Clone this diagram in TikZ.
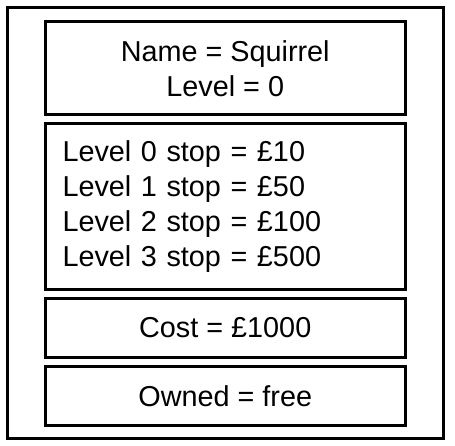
\documentclass[tikz,border=0pt]{standalone}
\usepackage{fontspec}
\setmainfont{Liberation Sans}
\usetikzlibrary{positioning}
\begin{document}
\begin{tikzpicture}[node distance=9.5pt, font=\fontsize{28.8pt}{35pt}\selectfont]
\tikzstyle{outerbox} = [rectangle, minimum width=435.5pt, minimum height=430.5pt, draw=black, line width=3pt]
\tikzstyle{block} = [rectangle, minimum width=359.5pt, align=center, draw=black, line width=3pt, outer sep=0pt]
\tikzstyle{list} = [align=left, text width=325.5pt, inner xsep=17pt]
%
\useasboundingbox (0,0) rectangle (455pt,-446pt);
\node (outer) [outerbox] at (225.25pt,-222.75pt) {};
\node (name)  [block, minimum height=93.5pt] at (225.25pt,-68.25pt) {Name = Squirrel\\Level = 0};
\node (stops) [block, list, minimum height=165.5pt, below=9pt of name] {Level 0 stop = £10\\Level 1 stop = £50\\Level 2 stop = £100\\Level 3 stop = £500};
\node (cost)  [block, minimum height=58pt, below=of stops] {Cost = £1000};
\node (owned) [block, minimum height=58.5pt, below=of cost] {Owned = free};
\end{tikzpicture}
\end{document}
